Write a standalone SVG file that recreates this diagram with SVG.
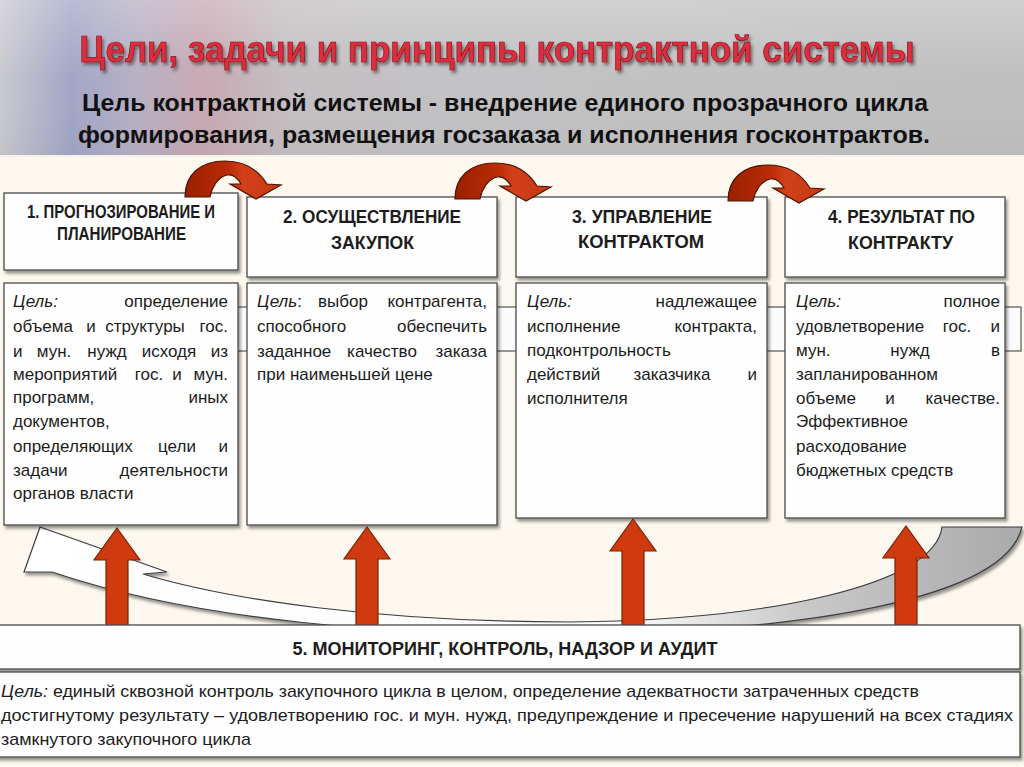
<svg xmlns="http://www.w3.org/2000/svg" width="1024" height="767" viewBox="0 0 1024 767">
<defs>
<linearGradient id="hdrbg" x1="0" y1="0" x2="1" y2="0">
<stop offset="0" stop-color="#c9c9cf"/>
<stop offset="0.07" stop-color="#a2a6c6"/>
<stop offset="0.13" stop-color="#b6b0c4"/>
<stop offset="0.2" stop-color="#c9a9b2"/>
<stop offset="0.28" stop-color="#c3bfc2"/>
<stop offset="0.5" stop-color="#c2c2c4"/>
<stop offset="1" stop-color="#bfbfc0"/>
</linearGradient>
<linearGradient id="hdrv" x1="0" y1="0" x2="0" y2="1">
<stop offset="0" stop-color="#ffffff" stop-opacity="0.25"/>
<stop offset="0.5" stop-color="#ffffff" stop-opacity="0"/>
<stop offset="1" stop-color="#000000" stop-opacity="0.03"/>
</linearGradient>
<linearGradient id="curveRed" x1="0" y1="0" x2="1" y2="0">
<stop offset="0" stop-color="#9a2000"/>
<stop offset="0.45" stop-color="#b92c06"/>
<stop offset="0.6" stop-color="#d2401a"/>
<stop offset="1" stop-color="#c73812"/>
</linearGradient>
<linearGradient id="swoosh" x1="0" y1="0" x2="1" y2="0">
<stop offset="0" stop-color="#ffffff"/>
<stop offset="0.6" stop-color="#fbfbfb"/>
<stop offset="0.78" stop-color="#c9c9c9"/>
<stop offset="1" stop-color="#aaaaaa"/>
</linearGradient>
<filter id="shadow" x="-5%" y="-5%" width="110%" height="120%">
<feDropShadow dx="2" dy="3" stdDeviation="1.8" flood-color="#000" flood-opacity="0.4"/>
</filter>
<filter id="tshadow" x="-5%" y="-20%" width="110%" height="150%">
<feDropShadow dx="2" dy="3" stdDeviation="1.5" flood-color="#333" flood-opacity="0.55"/>
</filter>
<style>
.box{fill:#fefefe;stroke:#4a4a4a;stroke-width:1.3;filter:url(#shadow)}
.hd{font-family:"Liberation Sans",Arial,sans-serif;font-weight:bold;font-size:18px;fill:#1c1c1c;text-anchor:middle}
.tx{font-family:"Liberation Sans",Arial,sans-serif;font-size:17px;fill:#1c1c1c}
.it{font-style:italic}
.e{text-anchor:end}
.m{text-anchor:middle}
.red{fill:#cf3a0e;stroke:#7a2200;stroke-width:1.2}
.cr{fill:url(#curveRed);stroke:#4a1500;stroke-width:1.2}
.bt{font-family:"Liberation Sans",Arial,sans-serif;font-size:17px;fill:#1c1c1c}
</style>
</defs>

<!-- background -->
<rect x="0" y="0" width="1024" height="767" fill="#fcf8ef"/>
<rect x="0" y="0" width="1024" height="156" fill="url(#hdrbg)"/>
<rect x="0" y="0" width="1024" height="156" fill="url(#hdrv)"/>
<rect x="0" y="155" width="1024" height="2" fill="#f4f1ea"/>

<!-- title -->
<text x="497" y="62" text-anchor="middle" textLength="835" lengthAdjust="spacingAndGlyphs" font-family="Liberation Sans, Arial, sans-serif" font-weight="bold" font-size="36" fill="#dd2f3c" stroke="#8c1222" stroke-width="0.7" filter="url(#tshadow)">Цели, задачи и принципы контрактной системы</text>
<text x="505" y="111" text-anchor="middle" textLength="846" lengthAdjust="spacingAndGlyphs" font-family="Liberation Sans, Arial, sans-serif" font-weight="bold" font-size="24" fill="#111">Цель контрактной системы - внедрение единого прозрачного цикла</text>
<text x="504" y="143" text-anchor="middle" textLength="852" lengthAdjust="spacingAndGlyphs" font-family="Liberation Sans, Arial, sans-serif" font-weight="bold" font-size="24" fill="#111">формирования, размещения госзаказа и исполнения госконтрактов.</text>

<g id="connectors">
<!-- hidden band behind goal boxes -->
<rect x="200" y="307" width="821" height="44" fill="#fbfbfb" stroke="#555" stroke-width="1.2"/>
<!-- cycle swoosh -->
<path d="M 40,527 L 167,572 L 143,574 C 230,600 380,622 570,622 C 770,620 935,585 942,527 L 1022,527 C 1005,600 800,632 570,634 C 400,636 200,622 52,572 L 24,572 Z" fill="url(#swoosh)" stroke="#3d3d3d" stroke-width="1.2" filter="url(#shadow)"/>
</g>

<!-- stage header boxes -->
<g id="stage1-head">
<rect class="box" x="4" y="193" width="234" height="77"/>
<text class="hd" x="121" y="218" font-size="16" textLength="188" lengthAdjust="spacingAndGlyphs">1. ПРОГНОЗИРОВАНИЕ И</text>
<text class="hd" x="121.5" y="240" font-size="16" textLength="129" lengthAdjust="spacingAndGlyphs">ПЛАНИРОВАНИЕ</text>
</g>
<g id="stage2-head">
<rect class="box" x="247" y="197" width="250" height="80"/>
<text class="hd" x="372" y="223" textLength="178" lengthAdjust="spacingAndGlyphs">2. ОСУЩЕСТВЛЕНИЕ</text>
<text class="hd" x="372.5" y="249" textLength="83" lengthAdjust="spacingAndGlyphs">ЗАКУПОК</text>
</g>
<g id="stage3-head">
<rect class="box" x="516" y="197" width="251" height="80"/>
<text class="hd" x="642" y="223" textLength="140" lengthAdjust="spacingAndGlyphs">3. УПРАВЛЕНИЕ</text>
<text class="hd" x="641" y="248" textLength="126" lengthAdjust="spacingAndGlyphs">КОНТРАКТОМ</text>
</g>
<g id="stage4-head">
<rect class="box" x="785" y="197" width="220" height="80"/>
<text class="hd" x="901.5" y="223" textLength="147" lengthAdjust="spacingAndGlyphs">4. РЕЗУЛЬТАТ ПО</text>
<text class="hd" x="900.5" y="249" textLength="105" lengthAdjust="spacingAndGlyphs">КОНТРАКТУ</text>
</g>

<!-- goal boxes -->
<g id="stage1-goal">
<rect class="box" x="4" y="283" width="234" height="242"/>
<text class="tx it" x="13" y="307">Цель:</text><text class="tx e" x="228" y="307">определение</text>
<text class="tx" x="13" y="332">объема</text><text class="tx m" x="91" y="332">и</text><text class="tx m" x="145" y="332">структуры</text><text class="tx e" x="228" y="332">гос.</text>
<text class="tx" x="13" y="357">и</text><text class="tx m" x="54" y="357">мун.</text><text class="tx m" x="107" y="357">нужд</text><text class="tx m" x="169" y="357">исходя</text><text class="tx e" x="228" y="357">из</text>
<text class="tx" x="13" y="380">мероприятий</text><text class="tx m" x="149" y="380">гос.</text><text class="tx m" x="177" y="380">и</text><text class="tx e" x="228" y="380">мун.</text>
<text class="tx" x="13" y="403">программ,</text><text class="tx e" x="228" y="403">иных</text>
<text class="tx" x="13" y="427">документов,</text>
<text class="tx" x="13" y="452">определяющих</text><text class="tx m" x="177" y="452">цели</text><text class="tx e" x="228" y="452">и</text>
<text class="tx" x="13" y="476">задачи</text><text class="tx e" x="228" y="476">деятельности</text>
<text class="tx" x="13" y="499">органов власти</text>
</g>
<g id="stage2-goal">
<rect class="box" x="247" y="283" width="250" height="242"/>
<text class="tx" x="257" y="307"><tspan class="it">Цель</tspan>:</text><text class="tx m" x="343" y="307">выбор</text><text class="tx e" x="487" y="307">контрагента,</text>
<text class="tx" x="257" y="332">способного</text><text class="tx e" x="487" y="332">обеспечить</text>
<text class="tx" x="257" y="357">заданное</text><text class="tx m" x="382" y="357">качество</text><text class="tx e" x="487" y="357">заказа</text>
<text class="tx" x="257" y="380">при наименьшей цене</text>
</g>
<g id="stage3-goal">
<rect class="box" x="516" y="283" width="251" height="235"/>
<text class="tx it" x="527" y="307">Цель:</text><text class="tx e" x="757" y="307">надлежащее</text>
<text class="tx" x="527" y="332">исполнение</text><text class="tx e" x="757" y="332">контракта,</text>
<text class="tx" x="527" y="356">подконтрольность</text>
<text class="tx" x="527" y="380">действий</text><text class="tx m" x="672" y="380">заказчика</text><text class="tx e" x="757" y="380">и</text>
<text class="tx" x="527" y="404">исполнителя</text>
</g>
<g id="stage4-goal">
<rect class="box" x="785" y="283" width="220" height="235"/>
<text class="tx it" x="796" y="307">Цель:</text><text class="tx e" x="1000" y="307">полное</text>
<text class="tx" x="796" y="332">удовлетворение</text><text class="tx m" x="957" y="332">гос.</text><text class="tx e" x="1000" y="332">и</text>
<text class="tx" x="796" y="356">мун.</text><text class="tx m" x="910" y="356">нужд</text><text class="tx e" x="1000" y="356">в</text>
<text class="tx" x="796" y="380">запланированном</text>
<text class="tx" x="796" y="404">объеме</text><text class="tx m" x="890" y="404">и</text><text class="tx e" x="1000" y="404">качестве.</text>
<text class="tx" x="796" y="427">Эффективное</text>
<text class="tx" x="796" y="452">расходование</text>
<text class="tx" x="796" y="476">бюджетных средств</text>
</g>

<g id="arrows">
<!-- curved transitions between stages -->
<path class="cr" transform="translate(185,197)" d="M 0,0 C 0,-22 15,-36 40,-36 C 60,-36 74,-26 82,-13 L 96,-12 L 71,2 L 45,-13 L 56,-13 C 52,-20 47,-23 42,-22 C 33,-20 27,-10 25,0 Z"/>
<path class="cr" transform="translate(455,199)" d="M 0,0 C 0,-22 15,-36 40,-36 C 60,-36 74,-26 82,-13 L 96,-12 L 71,2 L 45,-13 L 56,-13 C 52,-20 47,-23 42,-22 C 33,-20 27,-10 25,0 Z"/>
<path class="cr" transform="translate(728,201)" d="M 0,0 C 0,-22 15,-36 40,-36 C 60,-36 74,-26 82,-13 L 96,-12 L 71,2 L 45,-13 L 56,-13 C 52,-20 47,-23 42,-22 C 33,-20 27,-10 25,0 Z"/>
<!-- vertical arrows from monitoring -->
<path class="red" d="M 117,528 L 140,560 L 128,560 L 128,628 L 106,628 L 106,560 L 94,560 Z"/>
<path class="red" d="M 367,527 L 390,559 L 378,559 L 378,628 L 356,628 L 356,559 L 344,559 Z"/>
<path class="red" d="M 633,519 L 656,551 L 644,551 L 644,628 L 622,628 L 622,551 L 610,551 Z"/>
<path class="red" d="M 906,526 L 929,558 L 917,558 L 917,628 L 895,628 L 895,558 L 883,558 Z"/>
</g>

<g id="stage5-head">
<rect class="box" x="-3" y="625" width="1023" height="44" fill="#fcf9f3"/>
<text class="hd" x="505" y="655" textLength="425" lengthAdjust="spacingAndGlyphs">5. МОНИТОРИНГ, КОНТРОЛЬ, НАДЗОР И АУДИТ</text>
</g>
<g id="stage5-goal">
<rect class="box" x="-3" y="672" width="1023" height="85"/>
<text class="bt" x="1" y="697" textLength="918" lengthAdjust="spacingAndGlyphs"><tspan class="it">Цель:</tspan> единый сквозной контроль закупочного цикла в целом, определение адекватности затраченных средств</text>
<text class="bt" x="1" y="721" textLength="1012" lengthAdjust="spacingAndGlyphs">достигнутому результату – удовлетворению гос. и мун.  нужд, предупреждение и пресечение нарушений на всех стадиях</text>
<text class="bt" x="1" y="745" textLength="250" lengthAdjust="spacingAndGlyphs">замкнутого закупочного цикла</text>
</g>
</svg>
